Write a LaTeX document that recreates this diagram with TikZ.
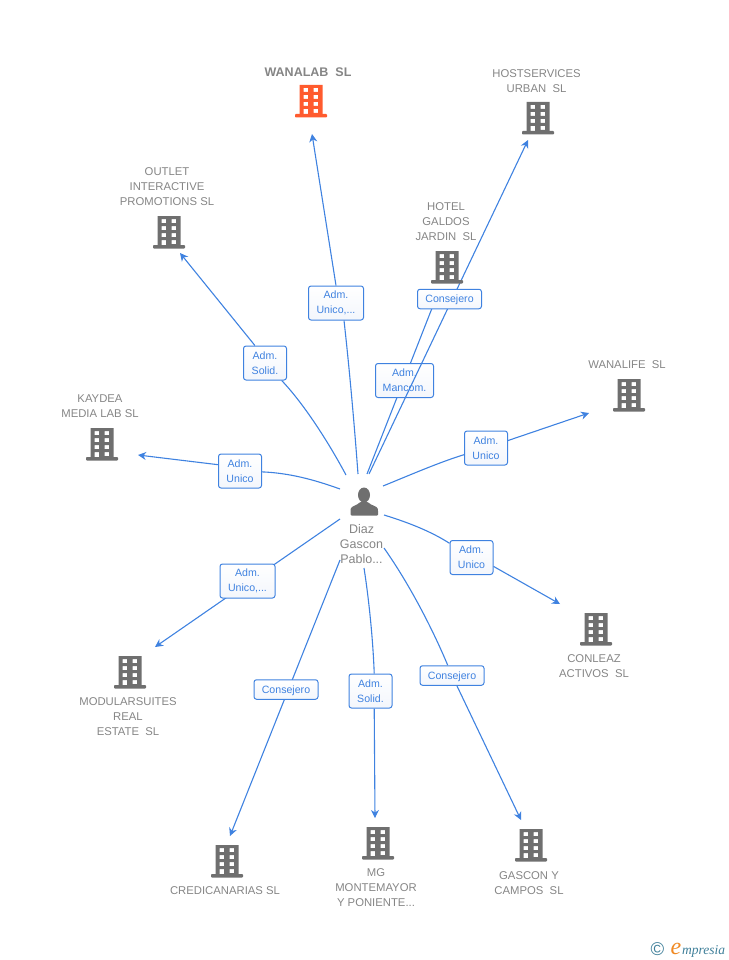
\documentclass[tikz,border=0pt]{standalone}
\usepackage{fontspec}
\setmainfont{Liberation Sans}
\newfontfamily\logofont{Liberation Serif}
\usetikzlibrary{arrows.meta}
\definecolor{linkblue}{HTML}{3F82E0}
\definecolor{namegray}{HTML}{858585}
\definecolor{bldgray}{HTML}{6F6F6F}
\definecolor{bldorange}{HTML}{FF5B2E}
\definecolor{logoteal}{HTML}{3F7F99}
\definecolor{logoorange}{HTML}{F08A24}
\definecolor{boxpale}{HTML}{F3F6FC}
\pgfdeclarelayer{lowbox}
\pgfdeclarelayer{mid}
\pgfdeclarelayer{conn}
\pgfsetlayers{conn,lowbox,mid,main}
\tikzset{
  x=1pt,y=-1pt,
  link/.style={draw=linkblue,line width=1.1pt},
  linkarrow/.style={link,-{Stealth[length=8pt,width=8pt,inset=2.5pt]}},
  rolebox/.style={draw=linkblue,line width=1pt,rounded corners=2.5pt,inner sep=0pt,
    top color=white,bottom color=boxpale,
    text=linkblue,align=center,font=\fontsize{10.6}{15}\selectfont,
    execute at begin node={\rule{0pt}{9.8pt}},
    minimum height=19.5pt},
  lbl/.style={text=namegray,align=center,inner sep=0pt,font=\fontsize{11.3}{15}\selectfont},
  boldlbl/.style={lbl,font=\fontsize{12.5}{15}\selectfont\bfseries},
  pics/bld/.style={code={
    \fill[#1,even odd rule]
      (-11.5,-16) rectangle (11.5,14)
      (-7.5,-13) rectangle (-3,-9)
      (2.5,-13) rectangle (7,-9)
      (-7.5,-6) rectangle (-3,-2)
      (2.5,-6) rectangle (7,-2)
      (-7.5,1) rectangle (-3,5)
      (2.5,1) rectangle (7,5)
      (-7.5,8) rectangle (-3,14)
      (2.5,8) rectangle (7,12);
    \fill[#1,rounded corners=0.8pt] (-16,13) rectangle (16,16.5);
  }},
}
\begin{document}
\begin{tikzpicture}
\useasboundingbox (0,0) rectangle (728,960);
% buildings
\pic at (311,101) {bld=bldorange};
\pic at (538,118) {bld=bldgray};
\pic at (169,232) {bld=bldgray};
\pic at (447,267) {bld=bldgray};
\pic at (629,395) {bld=bldgray};
\pic at (102,444) {bld=bldgray};
\pic at (596,629) {bld=bldgray};
\pic at (130,672) {bld=bldgray};
\pic at (227,861) {bld=bldgray};
\pic at (378,843) {bld=bldgray};
\pic at (531,845) {bld=bldgray};
% person
\fill[bldgray] (364,495) ellipse (6pt and 7.5pt);
\fill[bldgray,rounded corners=1pt] (350.5,515.5) -- (350.5,510) .. controls (351,506) and (357,505.5) .. (360,502)
  -- (368,502) .. controls (371,505.5) and (377.5,506) .. (378,510) -- (378,515.5) -- cycle;
% names
\node[boldlbl] (nWanalab) at (308,72) {WANALAB\ \ SL};
\node[lbl] (nHost) at (536.5,81.5) {HOSTSERVICES\\URBAN\ \ SL};
\node[lbl] (nOutlet) at (167,187) {OUTLET\\INTERACTIVE\\PROMOTIONS SL};
\node[lbl] (nHotel) at (446,222) {HOTEL\\GALDOS\\JARDIN\ \ SL};
\node[lbl] (nWanalife) at (627,365) {WANALIFE\ \ SL};
\node[lbl] (nKaydea) at (100,406.5) {KAYDEA\\MEDIA LAB SL};
\node[lbl] (nConleaz) at (594,666.5) {CONLEAZ\\ACTIVOS\ \ SL};
\node[lbl] (nModular) at (128,717) {MODULARSUITES\\REAL\\ESTATE\ \ SL};
\node[lbl] (nCredican) at (225,891) {CREDICANARIAS SL};
\node[lbl] (nMg) at (376,888) {MG\\MONTEMAYOR\\Y PONIENTE...};
\node[lbl] (nGascon) at (529,883.5) {GASCON Y\\CAMPOS\ \ SL};
\node[lbl,font=\fontsize{12.5}{15}\selectfont] (nPerson) at (361.5,544) {Diaz\\Gascon\\Pablo...};
% role boxes
\node[rolebox,minimum width=55pt,minimum height=34pt] (rWanalab) at (336,303) {Adm.\\Unico,...};
\node[rolebox,minimum width=64pt] (rHost) at (449.5,299) {Consejero};
\begin{pgfonlayer}{lowbox}
\node[rolebox,minimum width=58pt,minimum height=34pt] (rHotel) at (404.5,380.5) {Adm.\\Mancom.};
\end{pgfonlayer}
\node[rolebox,minimum width=43pt,minimum height=34pt] (rOutlet) at (265,363) {Adm.\\Solid.};
\node[rolebox,minimum width=43pt,minimum height=34pt] (rKaydea) at (240,471) {Adm.\\Unico};
\node[rolebox,minimum width=43pt,minimum height=34pt] (rWanalife) at (486,448) {Adm.\\Unico};
\node[rolebox,minimum width=43pt,minimum height=34pt] (rConleaz) at (471.5,557.5) {Adm.\\Unico};
\node[rolebox,minimum width=55pt,minimum height=34pt] (rModular) at (247.5,581) {Adm.\\Unico,...};
\node[rolebox,minimum width=64pt] (rCredican) at (286,689.5) {Consejero};
\node[rolebox,minimum width=43pt,minimum height=34pt] (rMg) at (370.5,691) {Adm.\\Solid.};
\node[rolebox,minimum width=64pt] (rGascon) at (452,675.5) {Consejero};
% free ends
\coordinate (s1) at (358,474); \coordinate (e1) at (312,134);
\coordinate (s2) at (346,475); \coordinate (e2) at (180,253);
\coordinate (s3) at (367,474); \coordinate (e3) at (436,298);
\coordinate (s4) at (369,474); \coordinate (e4) at (528,140);
\coordinate (s5) at (383,486); \coordinate (e5) at (589,413);
\coordinate (s6) at (340,489); \coordinate (e6) at (138,455);
\coordinate (s7) at (340,519); \coordinate (e7) at (155,647);
\coordinate (s8) at (340,560); \coordinate (e8) at (230,836);
\coordinate (s9) at (364,568); \coordinate (e9) at (375,818);
\coordinate (s10) at (384,548); \coordinate (e10) at (521,820);
\coordinate (s11) at (384,515); \coordinate (e11) at (560,604);
\begin{pgfonlayer}{conn}
\draw[link] (s1) .. controls (354,420) and (349,365) .. (rWanalab.south -| 344,320);
\draw[linkarrow] (rWanalab.north) -- (e1);
\draw[link] (s2) .. controls (330,445) and (305,405) .. (rOutlet);
\draw[linkarrow] (rOutlet.120) -- (e2);
\draw[link] (s3) -- (e3);
\draw[link] (s5) .. controls (410,475) and (440,462) .. (rWanalife);
\draw[linkarrow] (rWanalife) -- (e5);
\draw[link] (s6) .. controls (315,480) and (290,473) .. (rKaydea);
\draw[linkarrow] (rKaydea.164) -- (e6);
\draw[linkarrow] (s7) -- (e7);
\draw[linkarrow] (s8) -- (e8);
\draw[link] (s9) .. controls (369,600) and (373,640) .. (rMg.78);
\draw[linkarrow] (rMg.-78) -- (e9);
\draw[link] (s10) .. controls (410,585) and (433,630) .. (rGascon);
\draw[linkarrow] (rGascon) -- (e10);
\draw[link] (s11) .. controls (410,523) and (432,532) .. (rConleaz);
\draw[linkarrow] (rConleaz.-22) -- (e11);
\end{pgfonlayer}
\begin{pgfonlayer}{mid}
\draw[linkarrow] (s4) -- (e4);
\end{pgfonlayer}
% logo
\node[inner sep=0pt,text=logoteal,font=\fontsize{18.5}{18}\selectfont] (logoC) at (657.5,949) {©};
\node[inner sep=0pt,anchor=base west,text=logoorange,font=\logofont\itshape\fontsize{24}{24}\selectfont] (logoE) at (670.5,954) {e};
\node[inner sep=0pt,anchor=base west,text=logoteal,font=\logofont\itshape\fontsize{13.5}{14}\selectfont] (logoT) at (682,954) {mpresia};
\end{tikzpicture}
\end{document}
